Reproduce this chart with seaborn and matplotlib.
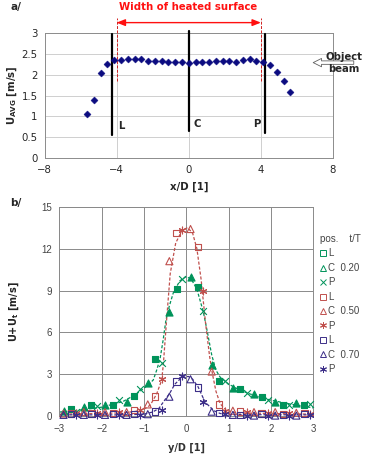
import numpy as np
import pandas as pd
import seaborn as sns
import matplotlib.pyplot as plt
from matplotlib.lines import Line2D

# panel a/ : averaged velocity along x/D
xd = [-5.63, -5.26, -4.88, -4.51, -4.13, -3.75, -3.38, -3.0, -2.63, -2.25, -1.88,
      -1.5, -1.13, -0.75, -0.38, 0.0, 0.38, 0.75, 1.13, 1.5, 1.88, 2.25, 2.63,
      3.0, 3.38, 3.75, 4.13, 4.5, 4.88, 5.26, 5.63]
uavg = [1.06, 1.40, 2.04, 2.26, 2.36, 2.36, 2.38, 2.37, 2.37, 2.32, 2.33, 2.33,
        2.30, 2.31, 2.30, 2.28, 2.30, 2.30, 2.30, 2.32, 2.33, 2.33, 2.31, 2.35,
        2.37, 2.33, 2.30, 2.23, 2.06, 1.85, 1.58]
probe_lbl = ['L', 'C', 'P']
probe_x = [-4.27, 0.0, 4.21]
probe_lo = [0.56, 0.66, 0.60]
probe_hi = [2.98, 3.04, 2.98]
heated = [-4, 4]

# panel b/ : profiles at three positions and three times
pos_x = {
    'L': [-2.72, -2.24, -1.73, -1.24, -0.74, -0.23, 0.28, 0.77, 1.27, 1.78, 2.28, 2.79],
    'C': [-2.9, -2.42, -1.92, -1.41, -0.91, -0.4, 0.1, 0.6, 1.1, 1.6, 2.1, 2.6],
    'P': [-2.6, -2.1, -1.6, -1.1, -0.58, -0.1, 0.4, 0.92, 1.43, 1.93, 2.43, 2.93],
}
u020 = {
    'L': [0.55, 0.8, 0.8, 1.45, 4.08, 9.1, 9.25, 2.55, 1.95, 1.4, 0.78, 0.78],
    'C': [0.35, 0.65, 0.82, 1.03, 2.4, 7.45, 10.0, 3.7, 2.0, 1.6, 1.05, 0.92],
    'P': [0.33, 0.7, 1.17, 1.95, 3.8, 9.8, 7.5, 2.5, 1.65, 1.15, 0.78, 0.9],
}
u050 = {
    'L': [0.2, 0.2, 0.25, 0.45, 1.4, 13.1, 12.1, 0.85, 0.35, 0.2, 0.15, 0.25],
    'C': [0.2, 0.3, 0.3, 0.3, 0.85, 11.1, 13.4, 3.2, 0.4, 0.3, 0.3, 0.25],
    'P': [0.2, 0.25, 0.3, 0.45, 2.7, 13.3, 9.0, 0.4, 0.3, 0.25, 0.2, 0.15],
}
u070 = {
    'L': [0.15, 0.15, 0.15, 0.15, 0.35, 2.48, 2.07, 0.22, 0.1, 0.15, 0.1, 0.15],
    'C': [0.1, 0.1, 0.1, 0.1, 0.15, 1.4, 2.65, 0.33, 0.1, 0.05, 0.05, 0.05],
    'P': [0.1, 0.1, 0.1, 0.1, 0.45, 2.85, 1.0, 0.15, 0.05, 0.05, 0.05, 0.1],
}
# dashed fitted curves
fit020_x = [-3, -2.5, -2, -1.5, -1.2, -1.0, -0.88, -0.78, -0.7, -0.62, -0.55, -0.48, -0.4,
            -0.3, -0.15, 0.0, 0.12, 0.25, 0.4, 0.5, 0.6, 0.7, 0.8, 1.0, 1.25, 1.5, 2.0, 2.5, 3.0]
fit020_y = [0.3, 0.45, 0.65, 1.05, 1.55, 2.0, 2.3, 2.6, 3.3, 4.1, 5.4, 6.9, 7.9,
            8.9, 9.7, 10.0, 9.8, 9.1, 7.5, 6.0, 4.4, 3.3, 2.8, 2.3, 1.9, 1.6, 1.15, 0.85, 0.6]
fit050_x = [-3, -2, -1.5, -1.2, -1.0, -0.85, -0.7, -0.58, -0.54, -0.47, -0.38, -0.25, -0.1,
            0.03, 0.15, 0.25, 0.35, 0.45, 0.55, 0.62, 0.7, 0.8, 0.95, 1.2, 2.0, 3.0]
fit050_y = [0.15, 0.2, 0.25, 0.35, 0.5, 0.8, 1.6, 2.6, 3.8, 6.7, 10.2, 12.4, 13.3,
            13.5, 13.1, 12.0, 9.8, 6.8, 4.3, 3.0, 1.8, 0.9, 0.4, 0.25, 0.2, 0.15]
fit070_x = [-3, -1.5, -1.0, -0.8, -0.65, -0.5, -0.4, -0.27, -0.1, 0.05, 0.15, 0.28, 0.4,
            0.5, 0.65, 0.8, 1.0, 3.0]
fit070_y = [0.1, 0.1, 0.15, 0.3, 0.55, 1.2, 1.6, 2.3, 2.8, 2.85, 2.65, 2.1, 1.3,
            0.85, 0.4, 0.2, 0.12, 0.1]

times = ['0.20', '0.50', '0.70']
colors = ['#00935a', '#c0504d', '#3d2f88']
star6 = (6, 2, 0)

fig = plt.figure(figsize=(3.76, 4.55), dpi=100)
sns.set_style('white')
plt.rcParams['font.family'] = ['DejaVu Sans']

# ---------------- a/ ----------------
ax1 = fig.add_axes([0.1184, 0.6527, 0.7673, 0.2747])
sns.scatterplot(x=xd, y=uavg, marker='D', s=13, color='#0b0b80', edgecolor='#0b0b80',
                linewidth=0.3, ax=ax1, zorder=5)
ax1.set_xlim(-8, 8)
ax1.set_ylim(0, 3)
ax1.set_xticks([-8, -4, 0, 4, 8])
ax1.set_yticks(np.arange(0, 3.01, 0.5))
ax1.set_yticklabels(['0', '0.5', '1', '1.5', '2', '2.5', '3'])
ax1.grid(True, color='#c8c8c8', lw=0.6)
ax1.set_axisbelow(True)
for s in ax1.spines.values():
    s.set_color('#8c8c8c')
    s.set_linewidth(0.7)
ax1.tick_params(labelsize=7.3, length=3, width=0.6, color='#8c8c8c', pad=2)
ax1.set_xlabel('x/D [1]', fontsize=7.3, fontweight='bold', labelpad=5)
ax1.set_ylabel(r'$\mathbf{U_{AVG}}$ [m/s]', fontsize=7.3, fontweight='bold', labelpad=2)

for lbl, px, lo, hi in zip(probe_lbl, probe_x, probe_lo, probe_hi):
    ax1.plot([px, px], [lo, hi], color='black', lw=1.6, clip_on=False, zorder=4)
ax1.text(-3.75, 0.76, 'L', fontsize=7.3, fontweight='bold', ha='center', va='center')
ax1.text(0.48, 0.82, 'C', fontsize=7.3, fontweight='bold', ha='center', va='center')
ax1.text(3.75, 0.82, 'P', fontsize=7.3, fontweight='bold', ha='center', va='center')

for hx in heated:
    ax1.plot([hx, hx], [1.85, 3.37], color='#d02020', lw=0.7, ls=(0, (3, 1.5)),
             clip_on=False, zorder=3)
ax1.annotate('', xy=(heated[0], 3.25), xytext=(heated[1], 3.25), annotation_clip=False,
             arrowprops=dict(arrowstyle='<|-|>,head_length=0.5,head_width=0.2',
                             color='#ff1010', lw=1.0, shrinkA=0, shrinkB=0))
fig.text(0.499, 0.984, 'Width of heated surface', color='#ff1010', fontsize=7.3,
         fontweight='bold', ha='center', va='center')

ax1.annotate('', xy=(6.9, 2.29), xytext=(9.15, 2.29), annotation_clip=False,
             arrowprops=dict(arrowstyle='simple,head_length=0.6,head_width=0.6,tail_width=0.25',
                             fc='white', ec='#606060', lw=0.6, shrinkA=0, shrinkB=0))
ax1.text(8.6, 2.29, 'Object\nbeam', fontsize=7.3, fontweight='bold', ha='center',
         va='center', linespacing=1.25, clip_on=False)
fig.text(0.027, 0.984, 'a/', fontsize=7.5, fontweight='bold', va='center')

# ---------------- b/ ----------------
ax2 = fig.add_axes([0.1577, 0.0851, 0.6755, 0.4607])
fits = [(fit020_x, fit020_y), (fit050_x, fit050_y), (fit070_x, fit070_y)]
for (fx, fy), c in zip(fits, colors):
    sns.lineplot(x=fx, y=fy, color=c, lw=0.9, linestyle=(0, (2.5, 1.5)), sort=False,
                 estimator=None, ax=ax2, zorder=2)

for data, c, filled in zip([u020, u050, u070], colors, [True, False, False]):
    fc = c if filled else 'none'
    sns.scatterplot(x=pos_x['L'], y=data['L'], marker='s', s=22, color=c, facecolor=fc,
                    edgecolor=c, linewidth=0.8, ax=ax2, clip_on=False, zorder=4)
    sns.scatterplot(x=pos_x['C'], y=data['C'], marker='^', s=26, color=c, facecolor=fc,
                    edgecolor=c, linewidth=0.8, ax=ax2, clip_on=False, zorder=4)
    pm = 'x' if filled else star6
    sns.scatterplot(x=pos_x['P'], y=data['P'], marker=pm, s=24, color=c,
                    linewidth=0.8, ax=ax2, clip_on=False, zorder=4)

ax2.set_xlim(-3, 3)
ax2.set_ylim(0, 15)
ax2.set_xticks(range(-3, 4))
ax2.set_yticks(range(0, 16, 3))
ax2.grid(True, color='#8a8a8a', lw=0.7)
ax2.set_axisbelow(True)
for s in ax2.spines.values():
    s.set_color('#8a8a8a')
    s.set_linewidth(0.7)
ax2.tick_params(labelsize=7, length=2.5, width=0.6, color='#8a8a8a', labelcolor='#444444', pad=3)
for t in ax2.get_xticklabels() + ax2.get_yticklabels():
    t.set_family('Liberation Sans')
ax2.set_xlabel('y/D [1]', fontsize=7, fontweight='bold', color='#333333', labelpad=6)
ax2.set_ylabel(r'$\mathbf{U{+}U_t}$ [m/s]', fontsize=7, fontweight='bold', color='#222222',
               labelpad=14)
fig.text(0.027, 0.553, 'b/', fontsize=7.5, fontweight='bold', va='center')

handles = []
labels = []
for t, c in zip(times, colors):
    handles += [Line2D([], [], marker='s', mfc='none', mec=c, ls='', ms=4.5, mew=0.7),
                Line2D([], [], marker='^', mfc='none', mec=c, ls='', ms=5, mew=0.7),
                Line2D([], [], marker='x' if t == '0.20' else star6, color=c, ls='',
                       ms=5, mew=0.7)]
    labels += ['L', 'C  ' + t, 'P']
leg = ax2.legend(handles, labels, title='pos.    t/T', loc='upper left',
                 bbox_to_anchor=(1.01, 0.888), frameon=False, handlelength=0.7,
                 handletextpad=0.15, labelspacing=0.46, borderaxespad=0,
                 prop={'family': 'Liberation Sans', 'size': 7}, alignment='left')
leg.get_title().set_fontsize(7)
leg.get_title().set_family('Liberation Sans')
leg.get_title().set_color('#444444')
for txt in leg.get_texts():
    txt.set_color('#444444')

fig.savefig('out.png', dpi=100)
